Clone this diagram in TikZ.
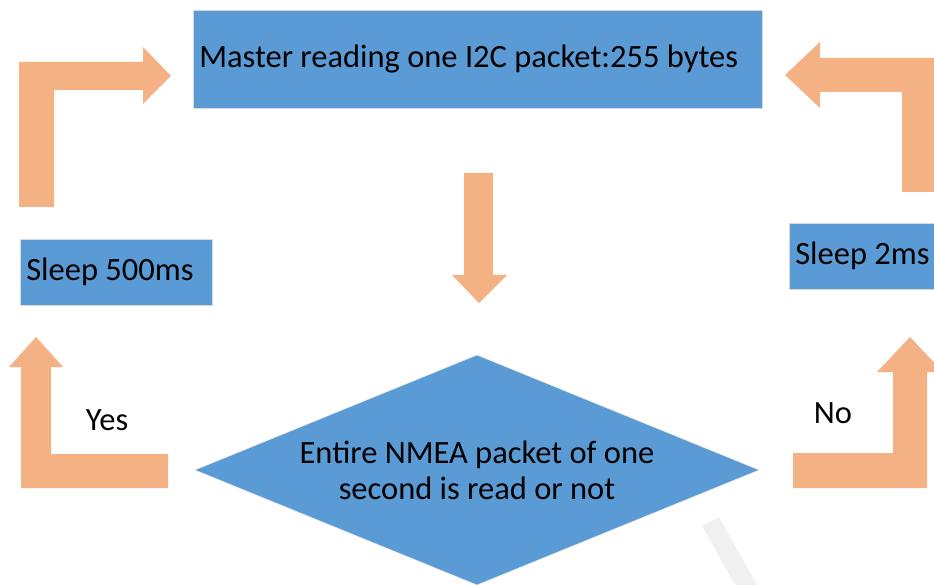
\documentclass[tikz,border=0pt]{standalone}
\usepackage{fontspec}
\setmainfont{Carlito}
\usetikzlibrary{shapes.geometric}
\definecolor{azulcaja}{HTML}{5B9BD5}
\definecolor{naranjaflecha}{HTML}{F4B183}
\begin{document}
\begin{tikzpicture}[x=1pt,y=-1pt,
    caja/.style={fill=azulcaja, draw=black!15, line width=0.6pt, anchor=north west,
      inner xsep=6pt, inner ysep=0pt, align=flush left, font=\fontsize{32.5}{36}\selectfont},
    rombo/.style={diamond, fill=azulcaja, draw=black!10, line width=0.4pt, aspect=2.45,
      inner sep=0pt, minimum width=564pt, minimum height=230pt, align=center,
      font=\fontsize{32.5}{36}\selectfont},
    etiqueta/.style={font=\fontsize{32.5}{36}\selectfont},
    flecha/.style={fill=naranjaflecha}]
    \useasboundingbox (0,0) rectangle (934,585);

    % Marca de agua
    \fill[black!6] (702,526) -- (719,517) -- (757,585) -- (735,585) -- cycle;

    % Dibuja las cajas
    \node[caja, minimum width=569pt, minimum height=98pt, text width=557pt] (lectura) at (193,10)
        {Master reading one I2C packet:255 bytes};
    \node[caja, minimum width=192pt, minimum height=66pt, text width=180pt] (espera500) at (20,239)
        {Sleep 500ms};
    \node[caja, minimum width=156pt, minimum height=66pt, text width=144pt] (espera2) at (789,223)
        {Sleep 2ms};

    % Dibuja el rombo de decision
    \node[rombo] (decision) at (477,470) {Entire NMEA packet of one\\second is read or not};

    % Dibuja las flechas
    \fill[flecha] (464,173) -- (493,173) -- (493,275) -- (507,275) -- (479,303)
        -- (452,275) -- (464,275) -- cycle;
    \fill[flecha] (168,454) -- (168,488) -- (21,488) -- (21,367) -- (9,367) -- (36,337)
        -- (63,367) -- (51,367) -- (51,454) -- cycle;
    \fill[flecha] (19,207) -- (19,62) -- (143,62) -- (143,47) -- (171,76) -- (143,104)
        -- (143,90) -- (54,90) -- (54,207) -- cycle;
    \fill[flecha] (793,453) -- (893,453) -- (893,372) -- (877,372) -- (910,337) -- (943,372)
        -- (927,372) -- (927,488) -- (793,488) -- cycle;
    \fill[flecha] (940,192) -- (902,192) -- (902,92) -- (820,92) -- (820,108) -- (785,75)
        -- (820,42) -- (820,58) -- (940,58) -- cycle;

    % Etiquetas
    \node[etiqueta] (si) at (107,420) {Yes};
    \node[etiqueta] (no) at (833,413) {No};
\end{tikzpicture}
\end{document}
